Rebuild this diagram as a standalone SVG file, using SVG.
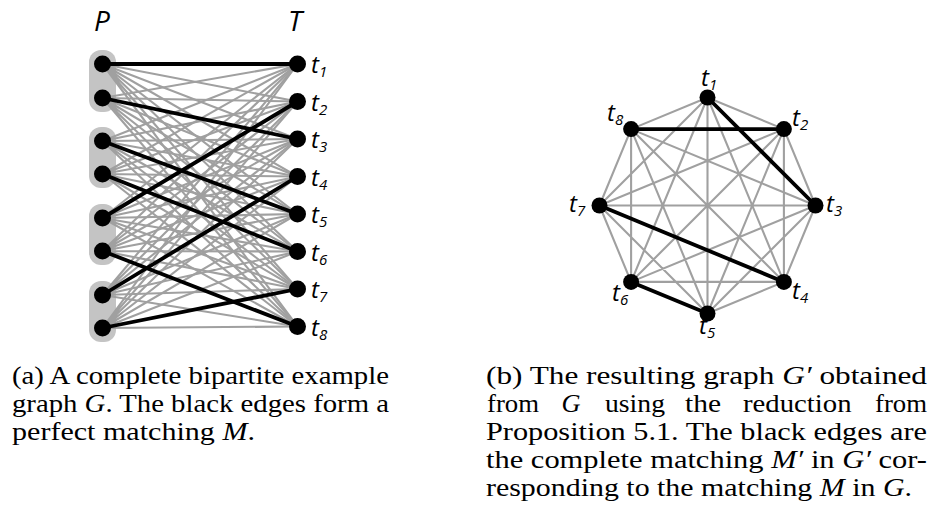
<svg xmlns="http://www.w3.org/2000/svg" width="931" height="518" viewBox="0 0 931 518">
  <style>
    .bg { fill: #ffffff; }
    .group { fill: #c4c4c4; }
    .edge { stroke: #a0a0a0; stroke-width: 2.1; fill: none; stroke-linecap: round; }
    .match { stroke: #000000; stroke-width: 3.8; fill: none; stroke-linecap: round; }
    .node { fill: #000000; }
    .lbl { font-family: "Open Sans", "DejaVu Sans", sans-serif; font-style: italic; font-size: 24px; fill: #000; }
    .sub { font-size: 15px; }
    .head { font-family: "Open Sans", "DejaVu Sans", sans-serif; font-style: italic; font-size: 28px; fill: #000; }
    .cap { font-family: 'Liberation Serif', serif; font-size: 26px; fill: #000; }
    .m { font-style: italic; }
  </style>
  <rect class="bg" x="0" y="0" width="931" height="518"/>

  <!-- (a) complete bipartite graph G -->
  <g id="partition-groups">
    <rect class="group" x="89" y="50" width="27" height="62" rx="12"/>
    <rect class="group" x="89" y="127" width="27" height="61" rx="12"/>
    <rect class="group" x="89" y="204" width="27" height="61" rx="12"/>
    <rect class="group" x="89" y="281" width="27" height="61" rx="12"/>
  </g>

  <g id="connectors-a">
    <path class="edge" d="M102.5 64L297.5 101.5M102.5 64L297.5 139M102.5 64L297.5 176.5M102.5 64L297.5 214M102.5 64L297.5 251.5M102.5 64L297.5 289M102.5 64L297.5 326.5"/>
    <path class="edge" d="M102.5 98L297.5 64M102.5 98L297.5 101.5M102.5 98L297.5 176.5M102.5 98L297.5 214M102.5 98L297.5 251.5M102.5 98L297.5 289M102.5 98L297.5 326.5"/>
    <path class="edge" d="M102.5 141L297.5 64M102.5 141L297.5 101.5M102.5 141L297.5 139M102.5 141L297.5 176.5M102.5 141L297.5 251.5M102.5 141L297.5 289M102.5 141L297.5 326.5"/>
    <path class="edge" d="M102.5 174L297.5 64M102.5 174L297.5 101.5M102.5 174L297.5 139M102.5 174L297.5 176.5M102.5 174L297.5 214M102.5 174L297.5 289M102.5 174L297.5 326.5"/>
    <path class="edge" d="M102.5 218L297.5 64M102.5 218L297.5 139M102.5 218L297.5 176.5M102.5 218L297.5 214M102.5 218L297.5 251.5M102.5 218L297.5 289M102.5 218L297.5 326.5"/>
    <path class="edge" d="M102.5 251L297.5 64M102.5 251L297.5 101.5M102.5 251L297.5 139M102.5 251L297.5 176.5M102.5 251L297.5 214M102.5 251L297.5 251.5M102.5 251L297.5 289"/>
    <path class="edge" d="M102.5 295L297.5 64M102.5 295L297.5 101.5M102.5 295L297.5 139M102.5 295L297.5 214M102.5 295L297.5 251.5M102.5 295L297.5 289M102.5 295L297.5 326.5"/>
    <path class="edge" d="M102.5 328L297.5 64M102.5 328L297.5 101.5M102.5 328L297.5 139M102.5 328L297.5 176.5M102.5 328L297.5 214M102.5 328L297.5 251.5M102.5 328L297.5 326.5"/>
    <!-- perfect matching M -->
    <line class="match" x1="102.5" y1="64" x2="297.5" y2="64"/>
    <line class="match" x1="102.5" y1="98" x2="297.5" y2="139"/>
    <line class="match" x1="102.5" y1="141" x2="297.5" y2="214"/>
    <line class="match" x1="102.5" y1="174" x2="297.5" y2="251.5"/>
    <line class="match" x1="102.5" y1="218" x2="297.5" y2="101.5"/>
    <line class="match" x1="102.5" y1="251" x2="297.5" y2="326.5"/>
    <line class="match" x1="102.5" y1="295" x2="297.5" y2="176.5"/>
    <line class="match" x1="102.5" y1="328" x2="297.5" y2="289"/>
  </g>

  <text class="head" x="94" y="31">P</text>
  <text class="head" x="288" y="31">T</text>

  <g id="p1"><circle class="node" cx="102.5" cy="64" r="8.5"/></g>
  <g id="p2"><circle class="node" cx="102.5" cy="98" r="8.5"/></g>
  <g id="p3"><circle class="node" cx="102.5" cy="141" r="8.5"/></g>
  <g id="p4"><circle class="node" cx="102.5" cy="174" r="8.5"/></g>
  <g id="p5"><circle class="node" cx="102.5" cy="218" r="8.5"/></g>
  <g id="p6"><circle class="node" cx="102.5" cy="251" r="8.5"/></g>
  <g id="p7"><circle class="node" cx="102.5" cy="295" r="8.5"/></g>
  <g id="p8"><circle class="node" cx="102.5" cy="328" r="8.5"/></g>

  <g id="a-t1"><circle class="node" cx="297.5" cy="64" r="8.5"/><text class="lbl" x="311" y="73">t<tspan class="sub" dy="4">1</tspan></text></g>
  <g id="a-t2"><circle class="node" cx="297.5" cy="101.5" r="8.5"/><text class="lbl" x="311" y="110.5">t<tspan class="sub" dy="4">2</tspan></text></g>
  <g id="a-t3"><circle class="node" cx="297.5" cy="139" r="8.5"/><text class="lbl" x="311" y="148">t<tspan class="sub" dy="4">3</tspan></text></g>
  <g id="a-t4"><circle class="node" cx="297.5" cy="176.5" r="8.5"/><text class="lbl" x="311" y="185.5">t<tspan class="sub" dy="4">4</tspan></text></g>
  <g id="a-t5"><circle class="node" cx="297.5" cy="214" r="8.5"/><text class="lbl" x="311" y="223">t<tspan class="sub" dy="4">5</tspan></text></g>
  <g id="a-t6"><circle class="node" cx="297.5" cy="251.5" r="8.5"/><text class="lbl" x="311" y="260.5">t<tspan class="sub" dy="4">6</tspan></text></g>
  <g id="a-t7"><circle class="node" cx="297.5" cy="289" r="8.5"/><text class="lbl" x="311" y="298">t<tspan class="sub" dy="4">7</tspan></text></g>
  <g id="a-t8"><circle class="node" cx="297.5" cy="326.5" r="8.5"/><text class="lbl" x="311" y="335.5">t<tspan class="sub" dy="4">8</tspan></text></g>

  <!-- (b) resulting graph G' on the octagon -->
  <g id="connectors-b">
    <path class="edge" d="M707.5 97.5L783.9 129.1M707.5 97.5L783.9 281.9M707.5 97.5L707.5 313.5M707.5 97.5L631.1 281.9M707.5 97.5L599.5 205.5M707.5 97.5L631.1 129.1
      M783.9 129.1L815.5 205.5M783.9 129.1L783.9 281.9M783.9 129.1L707.5 313.5M783.9 129.1L631.1 281.9M783.9 129.1L599.5 205.5
      M815.5 205.5L783.9 281.9M815.5 205.5L707.5 313.5M815.5 205.5L631.1 281.9M815.5 205.5L599.5 205.5M815.5 205.5L631.1 129.1
      M783.9 281.9L707.5 313.5M783.9 281.9L631.1 281.9M783.9 281.9L631.1 129.1
      M707.5 313.5L599.5 205.5M707.5 313.5L631.1 129.1
      M631.1 281.9L599.5 205.5M631.1 281.9L631.1 129.1
      M599.5 205.5L631.1 129.1"/>
    <!-- complete matching M' -->
    <line class="match" x1="707.5" y1="97.5" x2="815.5" y2="205.5"/>
    <line class="match" x1="631.1" y1="129.1" x2="783.9" y2="129.1"/>
    <line class="match" x1="599.5" y1="205.5" x2="783.9" y2="281.9"/>
    <line class="match" x1="631.1" y1="281.9" x2="707.5" y2="313.5"/>
  </g>

  <g id="b-t1"><circle class="node" cx="707.5" cy="97.5" r="8"/><text class="lbl" x="701" y="86">t<tspan class="sub" dy="4">1</tspan></text></g>
  <g id="b-t2"><circle class="node" cx="783.9" cy="129.1" r="8"/><text class="lbl" x="792" y="126">t<tspan class="sub" dy="4">2</tspan></text></g>
  <g id="b-t3"><circle class="node" cx="815.5" cy="205.5" r="8"/><text class="lbl" x="826" y="212">t<tspan class="sub" dy="4">3</tspan></text></g>
  <g id="b-t4"><circle class="node" cx="783.9" cy="281.9" r="8"/><text class="lbl" x="792" y="299">t<tspan class="sub" dy="4">4</tspan></text></g>
  <g id="b-t5"><circle class="node" cx="707.5" cy="313.5" r="8"/><text class="lbl" x="699" y="334">t<tspan class="sub" dy="4">5</tspan></text></g>
  <g id="b-t6"><circle class="node" cx="631.1" cy="281.9" r="8"/><text class="lbl" x="612" y="301">t<tspan class="sub" dy="4">6</tspan></text></g>
  <g id="b-t7"><circle class="node" cx="599.5" cy="205.5" r="8"/><text class="lbl" x="569" y="212">t<tspan class="sub" dy="4">7</tspan></text></g>
  <g id="b-t8"><circle class="node" cx="631.1" cy="129.1" r="8"/><text class="lbl" x="607" y="121">t<tspan class="sub" dy="4">8</tspan></text></g>

  <!-- captions, justified to the column width -->
  <g id="caption-a">
    <text class="cap" x="12" y="383.5" textLength="377" lengthAdjust="spacingAndGlyphs">(a) A complete bipartite example</text>
    <text class="cap" x="12" y="411.5" textLength="377" lengthAdjust="spacingAndGlyphs">graph <tspan class="m">G</tspan>. The black edges form a</text>
    <text class="cap" x="12" y="439.5" textLength="243" lengthAdjust="spacingAndGlyphs">perfect matching <tspan class="m">M</tspan>.</text>
  </g>
  <g id="caption-b">
    <text class="cap" x="486" y="383.5" textLength="441" lengthAdjust="spacingAndGlyphs">(b) The resulting graph <tspan class="m">G′</tspan> obtained</text>
    <text class="cap" x="487" y="411.5" textLength="52" lengthAdjust="spacingAndGlyphs">from</text>
    <text class="cap m" x="561.5" y="411.5" textLength="19" lengthAdjust="spacingAndGlyphs">G</text>
    <text class="cap" x="605" y="411.5" textLength="60" lengthAdjust="spacingAndGlyphs">using</text>
    <text class="cap" x="685" y="411.5" textLength="36" lengthAdjust="spacingAndGlyphs">the</text>
    <text class="cap" x="743" y="411.5" textLength="108.5" lengthAdjust="spacingAndGlyphs">reduction</text>
    <text class="cap" x="875" y="411.5" textLength="52" lengthAdjust="spacingAndGlyphs">from</text>
    <text class="cap" x="486" y="439.5" textLength="441" lengthAdjust="spacingAndGlyphs">Proposition 5.1. The black edges are</text>
    <text class="cap" x="486" y="467.5" textLength="441" lengthAdjust="spacingAndGlyphs">the complete matching <tspan class="m">M′</tspan> in <tspan class="m">G′</tspan> cor-</text>
    <text class="cap" x="486" y="495.5" textLength="426" lengthAdjust="spacingAndGlyphs">responding to the matching <tspan class="m">M</tspan> in <tspan class="m">G</tspan>.</text>
  </g>
</svg>
